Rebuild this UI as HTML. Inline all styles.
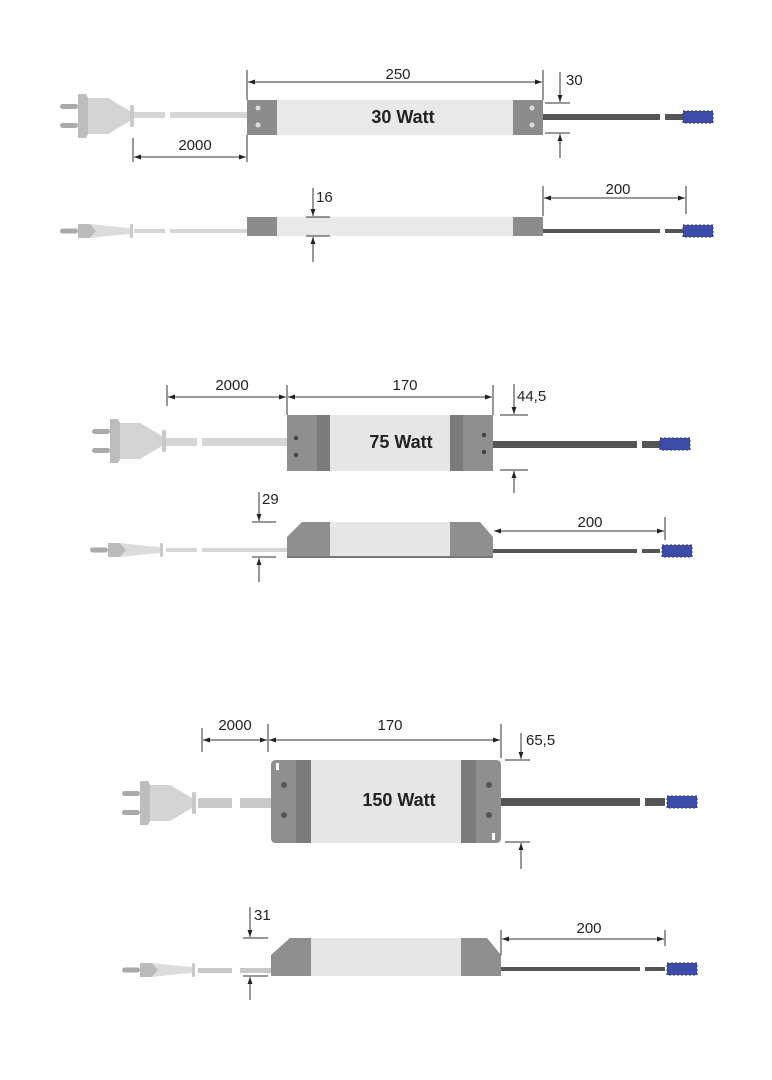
<!DOCTYPE html>
<html><head><meta charset="utf-8"><style>
html,body{margin:0;padding:0;background:#fff;}
svg{display:block;}
text{font-family:"Liberation Sans",sans-serif;fill:#222;}
.d{font-size:15px;}
.w{font-size:18px;font-weight:bold;}
</style></head><body>
<svg width="772" height="1080" viewBox="0 0 772 1080" xmlns="http://www.w3.org/2000/svg">
<defs>
<marker id="a" viewBox="0 0 10 10" refX="10" refY="5" markerWidth="7" markerHeight="7" orient="auto-start-reverse"><path d="M0,1.5 L10,5 L0,8.5 z" fill="#222"/></marker>
<g id="plugTop">
<rect x="0" y="-12" width="18" height="5" rx="2.5" fill="#aaa"/>
<rect x="0" y="7" width="18" height="5" rx="2.5" fill="#aaa"/>
<path d="M18,-22 L26,-22 L28,-18 L48,-18 L70,-5 L70,5 L48,18 L28,18 L26,22 L18,22 z" fill="#d4d4d4"/>
<path d="M18,-22 L26,-22 L28,-18 L28,18 L26,22 L18,22 z" fill="#bdbdbd"/>
<rect x="70" y="-11" width="4" height="22" rx="1.5" fill="#c9c9c9"/>
</g>
<g id="plugSide">
<rect x="0" y="-2.5" width="18" height="5" rx="2.5" fill="#aaa"/>
<path d="M18,-7 L30,-7 L36,0 L30,7 L18,7 z" fill="#bbb"/>
<path d="M30,-7 L48,-5 L70,-3 L70,3 L48,5 L30,7 L36,0 z" fill="#dcdcdc"/>
<rect x="70" y="-7" width="3" height="14" rx="1" fill="#c9c9c9"/>
</g>
<g id="conn">
<rect x="0" y="-6" width="30" height="12" fill="#3c4ca8"/>
<rect x="0" y="-6" width="30" height="12" fill="none" stroke="#2a3590" stroke-dasharray="2 2" stroke-width="1"/>
</g>
</defs>
<g stroke="#333" stroke-width="1" fill="none">
</g>

<!-- ===== 30 W top ===== -->
<use href="#plugTop" x="60" y="116"/>
<rect x="134" y="112" width="31" height="6" fill="#d6d6d6"/>
<rect x="170" y="112" width="77" height="6" fill="#d6d6d6"/>
<rect x="247" y="100" width="296" height="35" fill="#e9e9e9"/>
<rect x="247" y="100" width="30" height="35" fill="#8c8c8c"/>
<rect x="513" y="100" width="30" height="35" fill="#8c8c8c"/>
<circle cx="258" cy="108" r="2.5" fill="#ddd"/><circle cx="258" cy="125" r="2.5" fill="#ddd"/>
<circle cx="532" cy="108" r="2.5" fill="#ddd"/><circle cx="532" cy="125" r="2.5" fill="#ddd"/>
<text class="w" x="403" y="123" text-anchor="middle">30 Watt</text>
<rect x="543" y="114" width="117" height="6" fill="#555"/>
<rect x="665" y="114" width="20" height="6" fill="#555"/>
<use href="#conn" x="683" y="117"/>
<g stroke="#333" stroke-width="1" fill="none">
<line x1="247" y1="70" x2="247" y2="100"/><line x1="543" y1="70" x2="543" y2="100"/>
<line x1="248" y1="82" x2="542" y2="82" marker-start="url(#a)" marker-end="url(#a)"/>
<line x1="545" y1="103" x2="570" y2="103"/><line x1="545" y1="133" x2="570" y2="133"/>
<line x1="560" y1="72" x2="560" y2="102" marker-end="url(#a)"/>
<line x1="560" y1="158" x2="560" y2="134" marker-end="url(#a)"/>
<line x1="133" y1="138" x2="133" y2="162"/><line x1="247" y1="135" x2="247" y2="162"/>
<line x1="134" y1="157" x2="246" y2="157" marker-start="url(#a)" marker-end="url(#a)"/>
</g>
<text class="d" x="398" y="79" text-anchor="middle">250</text>
<text class="d" x="566" y="85">30</text>
<text class="d" x="195" y="150" text-anchor="middle">2000</text>

<!-- ===== 30 W side ===== -->
<use href="#plugSide" x="60" y="231"/>
<rect x="134" y="229" width="31" height="4" fill="#d6d6d6"/>
<rect x="170" y="229" width="77" height="4" fill="#d6d6d6"/>
<rect x="247" y="217" width="296" height="19" fill="#e9e9e9"/>
<rect x="247" y="217" width="30" height="19" fill="#8c8c8c"/>
<rect x="513" y="217" width="30" height="19" fill="#8c8c8c"/>
<rect x="543" y="229" width="117" height="4" fill="#555"/>
<rect x="665" y="229" width="20" height="4" fill="#555"/>
<use href="#conn" x="683" y="231"/>
<g stroke="#333" stroke-width="1" fill="none">
<line x1="306" y1="217" x2="330" y2="217"/><line x1="306" y1="236" x2="330" y2="236"/>
<line x1="313" y1="188" x2="313" y2="216" marker-end="url(#a)"/>
<line x1="313" y1="262" x2="313" y2="237" marker-end="url(#a)"/>
<line x1="543" y1="186" x2="543" y2="216"/><line x1="686" y1="186" x2="686" y2="214"/>
<line x1="544" y1="198" x2="685" y2="198" marker-start="url(#a)" marker-end="url(#a)"/>
</g>
<text class="d" x="316" y="202">16</text>
<text class="d" x="618" y="194" text-anchor="middle">200</text>

<!-- ===== 75 W top ===== -->
<use href="#plugTop" x="92" y="441"/>
<rect x="166" y="438" width="31" height="8" fill="#d6d6d6"/>
<rect x="202" y="438" width="85" height="8" fill="#d6d6d6"/>
<rect x="287" y="415" width="206" height="56" fill="#e6e6e6"/>
<rect x="287" y="415" width="30" height="56" fill="#8f8f8f"/>
<rect x="317" y="415" width="13" height="56" fill="#7b7b7b"/>
<rect x="450" y="415" width="13" height="56" fill="#7b7b7b"/>
<rect x="463" y="415" width="30" height="56" fill="#8f8f8f"/>
<circle cx="296" cy="438" r="2.2" fill="#444"/><circle cx="296" cy="455" r="2.2" fill="#444"/>
<circle cx="484" cy="435" r="2.2" fill="#444"/><circle cx="484" cy="452" r="2.2" fill="#444"/>
<text class="w" x="401" y="448" text-anchor="middle">75 Watt</text>
<rect x="493" y="441" width="144" height="7" fill="#555"/>
<rect x="642" y="441" width="18" height="7" fill="#555"/>
<use href="#conn" x="660" y="444"/>
<g stroke="#333" stroke-width="1" fill="none">
<line x1="167" y1="385" x2="167" y2="406"/><line x1="287" y1="385" x2="287" y2="415"/><line x1="493" y1="385" x2="493" y2="415"/>
<line x1="168" y1="397" x2="286" y2="397" marker-start="url(#a)" marker-end="url(#a)"/>
<line x1="288" y1="397" x2="492" y2="397" marker-start="url(#a)" marker-end="url(#a)"/>
<line x1="500" y1="415" x2="528" y2="415"/><line x1="500" y1="470" x2="528" y2="470"/>
<line x1="514" y1="384" x2="514" y2="414" marker-end="url(#a)"/>
<line x1="514" y1="493" x2="514" y2="471" marker-end="url(#a)"/>
</g>
<text class="d" x="232" y="390" text-anchor="middle">2000</text>
<text class="d" x="405" y="390" text-anchor="middle">170</text>
<text class="d" x="517" y="401">44,5</text>

<!-- ===== 75 W side ===== -->
<use href="#plugSide" x="90" y="550"/>
<rect x="166" y="548" width="31" height="4" fill="#d6d6d6"/>
<rect x="202" y="548" width="85" height="4" fill="#d6d6d6"/>
<path d="M287,537 L302,522 L480,522 L493,537 L493,557 L287,557 z" fill="#e6e6e6"/>
<path d="M287,537 L302,522 L330,522 L330,557 L287,557 z" fill="#8f8f8f"/>
<path d="M450,522 L480,522 L493,537 L493,557 L450,557 z" fill="#8f8f8f"/>
<rect x="287" y="556" width="206" height="2" fill="#777"/>
<rect x="493" y="549" width="144" height="4" fill="#555"/>
<rect x="642" y="549" width="18" height="4" fill="#555"/>
<use href="#conn" x="662" y="551"/>
<g stroke="#333" stroke-width="1" fill="none">
<line x1="252" y1="522" x2="276" y2="522"/><line x1="252" y1="557" x2="276" y2="557"/>
<line x1="259" y1="492" x2="259" y2="521" marker-end="url(#a)"/>
<line x1="259" y1="582" x2="259" y2="558" marker-end="url(#a)"/>
<line x1="665" y1="517" x2="665" y2="540"/>
<line x1="494" y1="531" x2="664" y2="531" marker-start="url(#a)" marker-end="url(#a)"/>
</g>
<text class="d" x="262" y="504">29</text>
<text class="d" x="590" y="527" text-anchor="middle">200</text>

<!-- ===== 150 W top ===== -->
<use href="#plugTop" x="122" y="803"/>
<rect x="198" y="798" width="34" height="10" fill="#c9c9c9"/>
<rect x="240" y="798" width="31" height="10" fill="#c9c9c9"/>
<rect x="271" y="760" width="230" height="83" rx="5" fill="#e6e6e6"/>
<path d="M276,760 L311,760 L311,843 L276,843 Q271,843 271,838 L271,765 Q271,760 276,760 z" fill="#8f8f8f"/>
<rect x="296" y="760" width="15" height="83" fill="#7b7b7b"/>
<path d="M461,760 L496,760 Q501,760 501,765 L501,838 Q501,843 496,843 L461,843 z" fill="#8f8f8f"/>
<rect x="461" y="760" width="15" height="83" fill="#7b7b7b"/>
<circle cx="284" cy="785" r="3" fill="#555"/><circle cx="284" cy="815" r="3" fill="#555"/>
<circle cx="489" cy="785" r="3" fill="#555"/><circle cx="489" cy="815" r="3" fill="#555"/>
<rect x="276" y="763" width="3" height="7" fill="#fff"/><rect x="492" y="833" width="3" height="7" fill="#fff"/>
<text class="w" x="399" y="806" text-anchor="middle">150 Watt</text>
<rect x="501" y="798" width="139" height="8" fill="#555"/>
<rect x="645" y="798" width="20" height="8" fill="#555"/>
<use href="#conn" x="667" y="802"/>
<g stroke="#333" stroke-width="1" fill="none">
<line x1="202" y1="728" x2="202" y2="752"/><line x1="268" y1="724" x2="268" y2="752"/><line x1="501" y1="724" x2="501" y2="758"/>
<line x1="203" y1="740" x2="267" y2="740" marker-start="url(#a)" marker-end="url(#a)"/>
<line x1="269" y1="740" x2="500" y2="740" marker-start="url(#a)" marker-end="url(#a)"/>
<line x1="505" y1="760" x2="530" y2="760"/><line x1="505" y1="842" x2="530" y2="842"/>
<line x1="521" y1="733" x2="521" y2="759" marker-end="url(#a)"/>
<line x1="521" y1="869" x2="521" y2="843" marker-end="url(#a)"/>
</g>
<text class="d" x="235" y="730" text-anchor="middle">2000</text>
<text class="d" x="390" y="730" text-anchor="middle">170</text>
<text class="d" x="526" y="745">65,5</text>

<!-- ===== 150 W side ===== -->
<use href="#plugSide" x="122" y="970"/>
<rect x="198" y="968" width="34" height="5" fill="#c9c9c9"/>
<rect x="240" y="968" width="31" height="5" fill="#c9c9c9"/>
<path d="M271,955 L290,938 L487,938 L501,955 L501,976 L271,976 z" fill="#e6e6e6"/>
<path d="M271,955 L290,938 L311,938 L311,976 L271,976 z" fill="#8f8f8f"/>
<path d="M461,938 L487,938 L501,955 L501,976 L461,976 z" fill="#8f8f8f"/>
<rect x="501" y="967" width="139" height="4" fill="#555"/>
<rect x="645" y="967" width="20" height="4" fill="#555"/>
<use href="#conn" x="667" y="969"/>
<g stroke="#333" stroke-width="1" fill="none">
<line x1="243" y1="938" x2="268" y2="938"/><line x1="243" y1="976" x2="268" y2="976"/>
<line x1="250" y1="907" x2="250" y2="937" marker-end="url(#a)"/>
<line x1="250" y1="1000" x2="250" y2="977" marker-end="url(#a)"/>
<line x1="665" y1="930" x2="665" y2="946"/><line x1="501" y1="930" x2="501" y2="955"/>
<line x1="502" y1="939" x2="664" y2="939" marker-start="url(#a)" marker-end="url(#a)"/>
</g>
<text class="d" x="254" y="920">31</text>
<text class="d" x="589" y="933" text-anchor="middle">200</text>
</svg>
</body></html>
